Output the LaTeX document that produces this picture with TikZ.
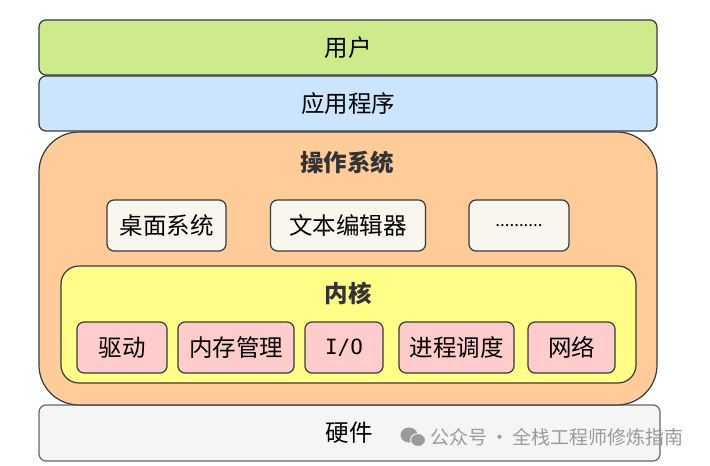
\documentclass[tikz,border=0pt]{standalone}
\usepackage{fontspec}
\setmainfont{Noto Sans CJK SC}
\newfontfamily\monofnt{DejaVu Sans Mono}
\definecolor{strokec}{HTML}{36393D}
\definecolor{userc}{HTML}{CDEB8B}
\definecolor{appc}{HTML}{CCE5FF}
\definecolor{osc}{HTML}{FFCC99}
\definecolor{progc}{HTML}{F9F7ED}
\definecolor{kernc}{HTML}{FFFF88}
\definecolor{modc}{HTML}{FFCCCC}
\definecolor{hwc}{HTML}{F5F5F5}
\definecolor{hwstroke}{HTML}{666666}
\definecolor{titlec}{HTML}{333333}
\definecolor{wmc}{HTML}{9A9A9A}
\begin{document}
\begin{tikzpicture}[x=1pt,y=-1pt,
  layer/.style={draw=strokec,line width=1.2pt,rounded corners=7pt,inner sep=0pt,font=\fontsize{23.5}{26}\selectfont},
  prog/.style={layer,fill=progc,minimum height=51pt},
  modbox/.style={layer,fill=modc,minimum height=51pt},
  ttl/.style={font=\fontsize{23.5}{26}\selectfont\bfseries,text=titlec}]
\useasboundingbox[fill=white] (0,0) rectangle (710,466);
\node[layer,fill=hwc,draw=hwstroke,minimum width=621pt,minimum height=56pt] (hw) at (349.5,433) {};
\node[layer,fill=osc,rounded corners=40pt,minimum width=618pt,minimum height=273pt] (os) at (348,268.5) {};
\node[layer,fill=userc,minimum width=618pt,minimum height=55pt] (user) at (348,47.5) {用户};
\node[layer,fill=appc,minimum width=618pt,minimum height=55pt] (app) at (348,103.5) {应用程序};
\node[ttl] (ostitle) at (347,163) {操作系统};
\node[prog,minimum width=119pt] (desk) at (166.5,225.5) {桌面系统};
\node[prog,minimum width=155pt] (edit) at (348,225.5) {文本编辑器};
\node[prog,minimum width=100pt,font=\fontsize{17}{19}\selectfont] (more) at (519,225.5) {..........};
\node[layer,fill=kernc,rounded corners=18pt,minimum width=575pt,minimum height=117pt] (kern) at (348.5,324.5) {};
\node[ttl] (kerntitle) at (348,293) {内核};
\node[modbox,minimum width=90pt] (drv) at (122,347.5) {驱动};
\node[modbox,minimum width=116pt] (mem) at (236,347.5) {内存管理};
\node[modbox,minimum width=78pt] (io) at (344,347.5) {\monofnt\fontsize{21}{24}\selectfont I/O};
\node[modbox,minimum width=115pt] (sched) at (456.5,347.5) {进程调度};
\node[modbox,minimum width=87pt] (net) at (571.5,347.5) {网络};
\node[font=\fontsize{23.5}{26}\selectfont] (hwtext) at (349,433) {硬件};
% watermark
\fill[wmc] (409,435) ellipse (8.5pt and 7.5pt);
\fill[wmc,draw=hwc,line width=1pt] (418,440) ellipse (7.5pt and 6.5pt);
\node[font=\fontsize{19}{21}\selectfont,text=wmc,anchor=west,inner sep=0pt] (wm) at (430,437) {公众号\,·\,全栈工程师修炼指南};
\end{tikzpicture}
\end{document}
